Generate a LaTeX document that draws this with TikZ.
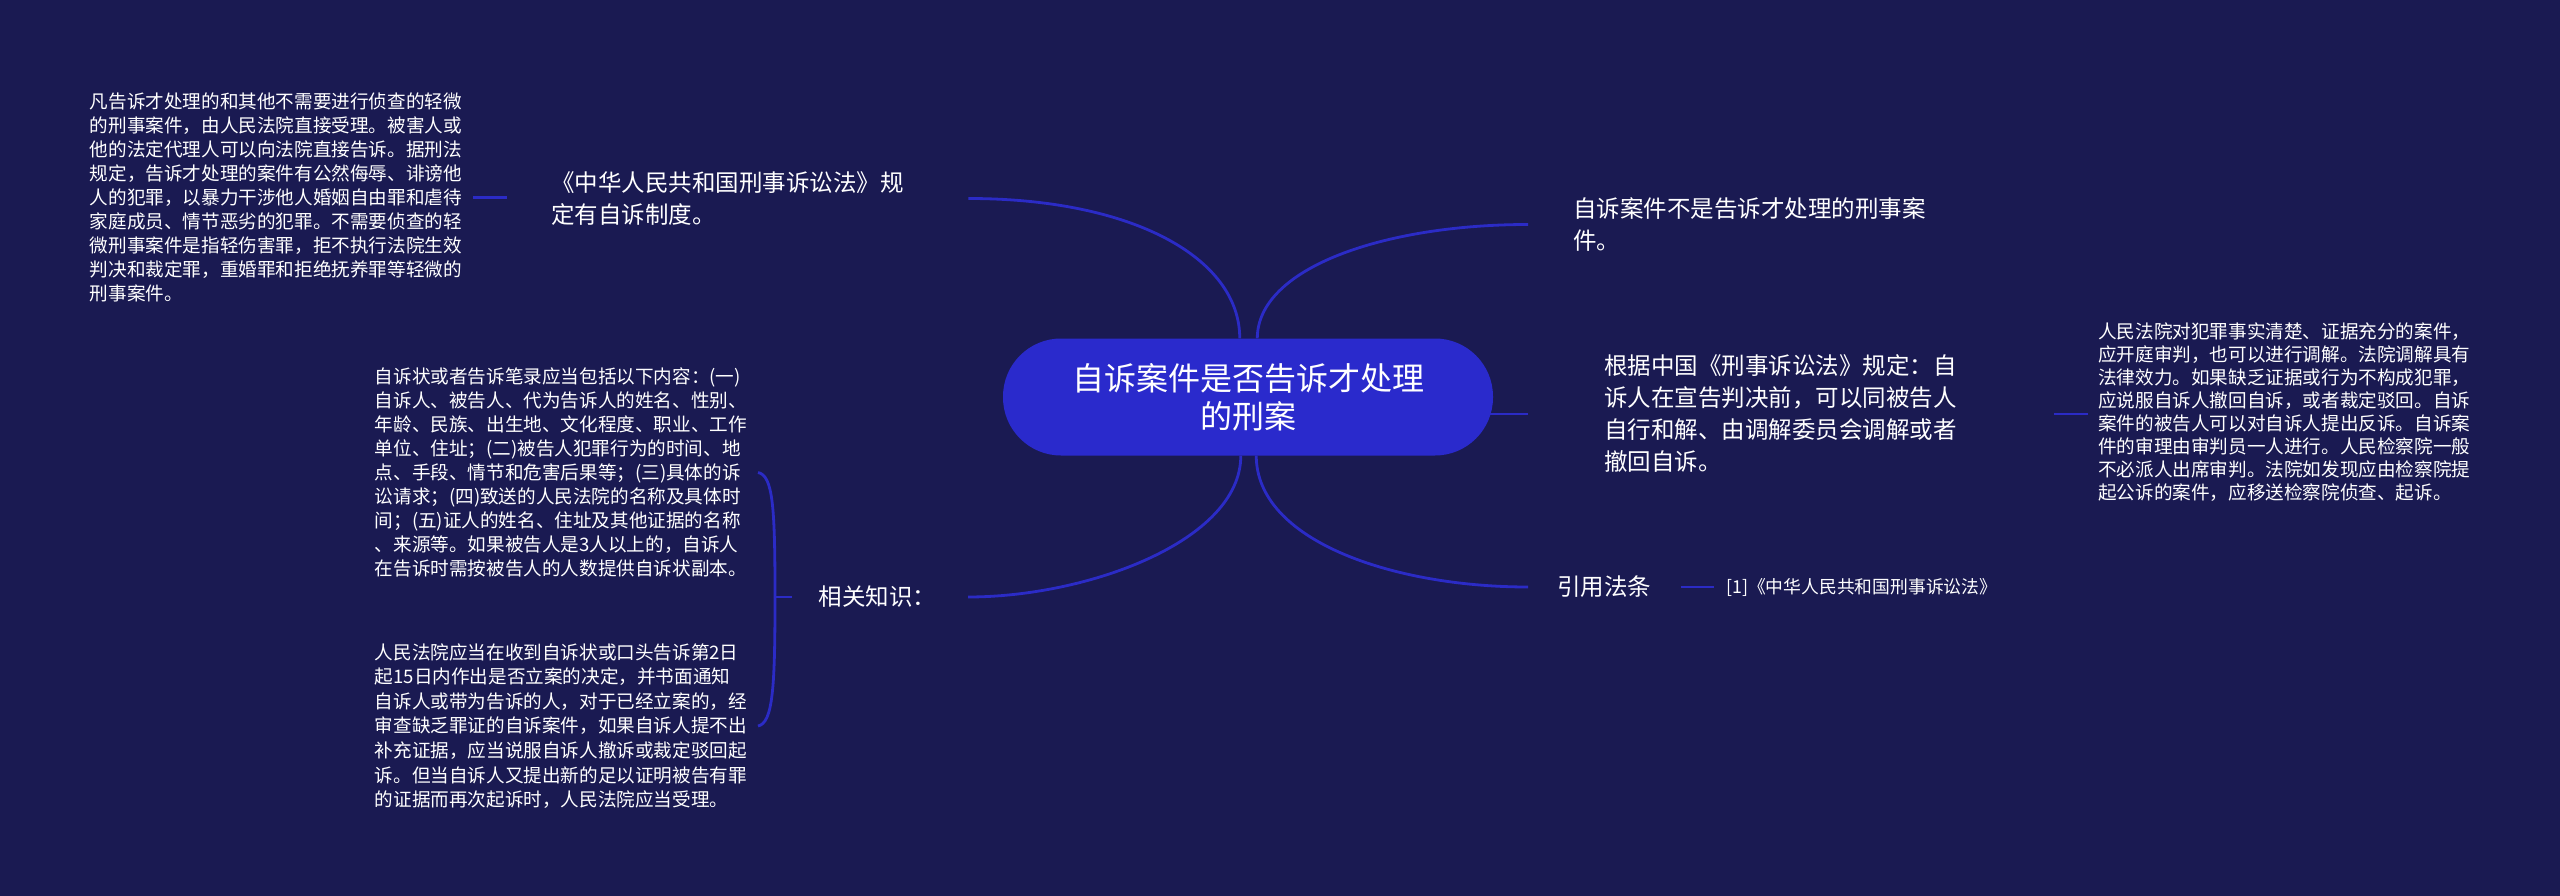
\documentclass[tikz,border=0pt]{standalone}
\usepackage{fontspec}
\setmainfont{Noto Sans CJK SC}
\usetikzlibrary{calc,backgrounds}
\definecolor{bgc}{HTML}{1A1A52}
\definecolor{pillc}{HTML}{2A2ACC}
\definecolor{linec}{HTML}{2B2BC6}
\begin{document}
\begin{tikzpicture}[x=1pt,y=-1pt,
  leaf/.style={text=white, font=\fontsize{18.6}{24}\selectfont, align=left, text width=372pt, inner xsep=11pt, inner ysep=0pt},
  branch/.style={text=white, font=\fontsize{23.5}{32}\selectfont, align=left, inner ysep=0pt},
  conn/.style={draw=linec, line width=2.8pt},
  centre/.style={fill=pillc, text=white, rounded corners=58pt, minimum width=490pt, minimum height=117pt, font=\fontsize{32}{38}\selectfont, align=center}]
\useasboundingbox (0,0) rectangle (2560,896);
\begin{scope}[on background layer]
\fill[bgc] (0,0) rectangle (2560,896);
\end{scope}

\node[centre] (c) at (1248,397) {自诉案件是否告诉才处理\\的刑案};

\node[branch, anchor=west, text width=373pt, inner xsep=44pt] (b1) at (507,198.5) {《中华人民共和国刑事诉讼法》规\\定有自诉制度。};
\node[leaf, anchor=east] (la) at (473,197.5) {凡告诉才处理的和其他不需要进行侦查的轻微\\的刑事案件，由人民法院直接受理。被害人或\\他的法定代理人可以向法院直接告诉。据刑法\\规定，告诉才处理的案件有公然侮辱、诽谤他\\人的犯罪，以暴力干涉他人婚姻自由罪和虐待\\家庭成员、情节恶劣的犯罪。不需要侦查的轻\\微刑事案件是指轻伤害罪，拒不执行法院生效\\判决和裁定罪，重婚罪和拒绝抚养罪等轻微的\\刑事案件。};

\node[branch, anchor=west, text width=365pt, inner xsep=45pt] (n3) at (1528,224.5) {自诉案件不是告诉才处理的刑事案\\件。};

\node[branch, anchor=west, text width=374pt, inner xsep=76pt] (n4) at (1528,414) {根据中国《刑事诉讼法》规定：自\\诉人在宣告判决前，可以同被告人\\自行和解、由调解委员会调解或者\\撤回自诉。};
\node[leaf, anchor=west, inner xsep=10pt, font=\fontsize{18.6}{23}\selectfont] (ld) at (2088,412.5) {人民法院对犯罪事实清楚、证据充分的案件，\\应开庭审判，也可以进行调解。法院调解具有\\法律效力。如果缺乏证据或行为不构成犯罪，\\应说服自诉人撤回自诉，或者裁定驳回。自诉\\案件的被告人可以对自诉人提出反诉。自诉案\\件的审理由审判员一人进行。人民检察院一般\\不必派人出席审判。法院如发现应由检察院提\\起公诉的案件，应移送检察院侦查、起诉。};

\node[branch, anchor=west, text width=95pt, inner xsep=29pt] (yy) at (1528,587) {引用法条};
\node[anchor=west, text=white, font=\fontsize{17.8}{20}\selectfont, inner xsep=12pt, inner ysep=0pt] (ref) at (1714,587) {[1]《中华人民共和国刑事诉讼法》};

\node[branch, anchor=east, text width=122pt, inner xsep=27pt] (xg) at (968,597) {相关知识：};
\coordinate (j) at (775,597);
\node[leaf, anchor=east] (lb) at (758,472.5) {自诉状或者告诉笔录应当包括以下内容：(一)\\自诉人、被告人、代为告诉人的姓名、性别、\\年龄、民族、出生地、文化程度、职业、工作\\单位、住址；(二)被告人犯罪行为的时间、地\\点、手段、情节和危害后果等；(三)具体的诉\\讼请求；(四)致送的人民法院的名称及具体时\\间；(五)证人的姓名、住址及其他证据的名称\\、来源等。如果被告人是3人以上的，自诉人\\在告诉时需按被告人的人数提供自诉状副本。};
\node[leaf, anchor=east, font=\fontsize{18.6}{24.6}\selectfont] (lc) at (758,726) {人民法院应当在收到自诉状或口头告诉第2日\\起15日内作出是否立案的决定，并书面通知\\自诉人或带为告诉的人，对于已经立案的，经\\审查缺乏罪证的自诉案件，如果自诉人提不出\\补充证据，应当说服自诉人撤诉或裁定驳回起\\诉。但当自诉人又提出新的足以证明被告有罪\\的证据而再次起诉时，人民法院应当受理。};

\begin{scope}[on background layer]
\draw[conn] (b1.east) .. controls +(165,0) and +(0,-80) .. (c.98);
\draw[conn] (c.81) .. controls +(0,-70) and +(-145,0) .. (n3.west);
\draw[conn] (c.263) .. controls +(0,85) and +(120,0) .. (xg.east);
\draw[conn] (c.278) .. controls +(0,85) and +(-135,0) .. (yy.west);
\draw[conn] (c.center |- n4.west) -- (n4.west);
\draw[conn] (n4.east) -- (n4.east -| ld.west);
\draw[conn] (la.east) -- (la.east -| b1.west);
\draw[conn] (yy.east) -- (yy.east -| ref.west);
\draw[conn] (xg.west) -- (j);
\draw[conn] (lb.east) .. controls +(15,3) and +(0,-90) .. (j);
\draw[conn] (lc.east) .. controls +(15,-3) and +(0,90) .. (j);
\end{scope}
\end{tikzpicture}
\end{document}
